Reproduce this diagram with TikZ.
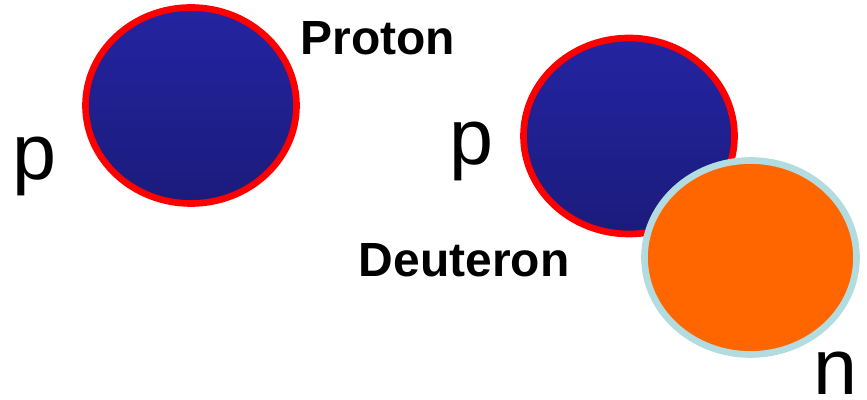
\documentclass[tikz,border=0pt]{standalone}
\usepackage{fontspec}
\setmainfont{Liberation Sans}
\usepackage{tikz}
\usetikzlibrary{positioning}
\definecolor{cRed}{HTML}{FF0000}
\definecolor{cBlueTop}{HTML}{2424A2}
\definecolor{cBlueBot}{HTML}{1B1B7C}
\definecolor{cOrange}{HTML}{FF6600}
\definecolor{cCyan}{HTML}{B2DCDF}

\tikzset{
    protonball/.style={top color=cBlueTop, bottom color=cBlueBot, draw=cRed, line width=3.8pt},
    neutronball/.style={fill=cOrange, draw=cCyan, line width=3.8pt},
    biglbl/.style={anchor=base west, inner sep=0pt, font=\fontsize{27.3}{30}\selectfont\bfseries},
    partlbl/.style={anchor=base west, inner sep=0pt, font=\fontsize{45}{50}\selectfont}
}

\begin{document}
\begin{tikzpicture}
        \useasboundingbox (0,0) rectangle (17.34,8);
        % free proton
        \coordinate (proton) at (3.82,5.89);
        \path[protonball] (proton) ellipse [x radius=2.11, y radius=1.96];
        \node[partlbl] (pfree) at (0.234,4.40) {p};
        \node[biglbl] (protonlbl) at (6.0,6.90) {Proton};
        % deuteron
        \coordinate (dproton) at (12.58,5.28);
        \coordinate (dneutron) at (15.01,2.85);
        \path[protonball] (dproton) ellipse [x radius=2.11, y radius=1.96];
        \path[neutronball] (dneutron) ellipse [x radius=2.12, y radius=1.94];
        \node[partlbl] (pbound) at (8.99,4.71) {p};
        \node[partlbl] (nbound) at (16.27,0.10) {n};
        \node[biglbl] (deuteronlbl) at (7.17,2.46) {Deuteron};
    \end{tikzpicture}
\end{document}
